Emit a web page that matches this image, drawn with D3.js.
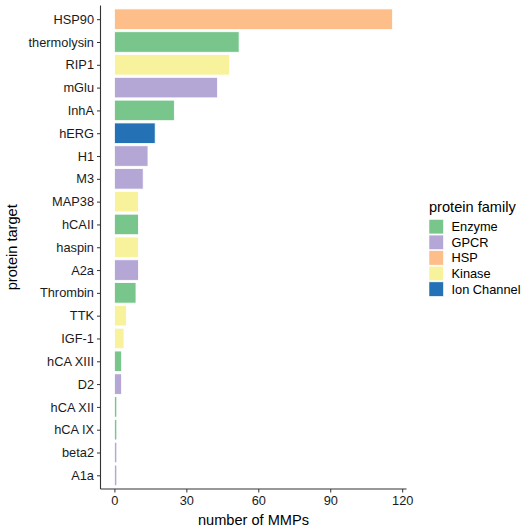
<!DOCTYPE html>
<html><head><meta charset="utf-8">
<script src="https://cdn.jsdelivr.net/npm/d3@7"></script>
<style>body{margin:0;background:#fff}svg{display:block;font-family:"Liberation Sans",Arial,sans-serif}</style>
</head><body>
<svg id="c" width="522" height="529"></svg>
<script>
const targets = ["HSP90","thermolysin","RIP1","mGlu","InhA","hERG","H1","M3","MAP38","hCAII","haspin","A2a","Thrombin","TTK","IGF-1","hCA XIII","D2","hCA XII","hCA IX","beta2","A1a"];
const counts = [116,52,48,43,25,17,14,12,10,10,10,10,9,5,4,3,3,1,1,1,1];
const families = ["HSP","Enzyme","Kinase","GPCR","Enzyme","Ion Channel","GPCR","GPCR","Kinase","Enzyme","Kinase","GPCR","Enzyme","Kinase","Kinase","Enzyme","GPCR","Enzyme","Enzyme","GPCR","GPCR"];
const familyOrder = ["Enzyme","GPCR","HSP","Kinase","Ion Channel"];
const familyColors = ["#78C68C","#B4A7D5","#FDBE8A","#F7F29B","#2472B5"];
const xTicks = [0,30,60,90,120];

(function(){
const FF = '"Liberation Sans",Arial,sans-serif';
const svg = d3.select("#c");
const pL = 100.5, pR = 406.5, pT = 5.5, pB = 489;
const maxV = d3.max(counts);
const x = d3.scaleLinear().domain([-0.05*maxV, 1.05*maxV]).range([pL, pR]);
const n = targets.length;
const step = (pB - pT) / (n - 1 + 1.2);
const y = d3.scalePoint().domain(targets).range([pT + 0.6*step, pB - 0.6*step]);
const color = d3.scaleOrdinal().domain(familyOrder).range(familyColors);
const bw = 0.9*step;

svg.append("g").selectAll("rect").data(targets).join("rect")
  .attr("x", x(0)).attr("y", d => y(d) - bw/2)
  .attr("width", (d,i) => x(counts[i]) - x(0)).attr("height", bw)
  .attr("fill", (d,i) => color(families[i]))
  .attr("stroke", "#fff").attr("stroke-width", 0.8);

const yAxis = svg.append("g").attr("transform", `translate(${pL},0)`)
  .call(d3.axisLeft(y).tickSize(3.5).tickPadding(3)).attr("font-family", FF);
yAxis.select(".domain").attr("d", `M0,${pT}V${pB}`).attr("stroke", "#333").attr("stroke-width", 1.1);
yAxis.selectAll(".tick line").attr("stroke", "#333").attr("stroke-width", 1);
yAxis.selectAll(".tick text").attr("fill", "#1a1a1a").style("font-size", "12.8px");

const xAxis = svg.append("g").attr("transform", `translate(0,${pB})`)
  .call(d3.axisBottom(x).tickValues(xTicks).tickSize(3.5).tickPadding(3)).attr("font-family", FF);
xAxis.select(".domain").attr("d", `M${pL},0H${pR}`).attr("stroke", "#333").attr("stroke-width", 1.1);
xAxis.selectAll(".tick line").attr("stroke", "#333").attr("stroke-width", 1);
xAxis.selectAll(".tick text").attr("fill", "#1a1a1a").style("font-size", "12.8px");

svg.append("text").attr("x", (pL+pR)/2).attr("y", 525).attr("text-anchor", "middle")
  .style("font-size", "14.6px").attr("fill", "#000").text("number of MMPs");
svg.append("text").attr("transform", `translate(17,${(pT+pB)/2}) rotate(-90)`).attr("text-anchor", "middle")
  .style("font-size", "14.6px").attr("fill", "#000").text("protein target");

const lg = svg.append("g").attr("transform", "translate(429,0)");
lg.append("text").attr("x", 0).attr("y", 212).style("font-size", "14.6px").attr("fill", "#000").text("protein family");
const items = lg.selectAll("g.item").data(familyOrder).join("g").attr("class", "item")
  .attr("transform", (d,i) => `translate(0,${219.5 + i*15.6})`);
items.append("rect").attr("width", 14.4).attr("height", 14.4).attr("fill", d => color(d))
  .attr("stroke", "#fff").attr("stroke-width", 0.5);
items.append("text").attr("x", 22.5).attr("y", 7.2).attr("dy", "0.35em")
  .style("font-size", "12.8px").attr("fill", "#000").text(d => d);
})();
</script>
</body></html>
